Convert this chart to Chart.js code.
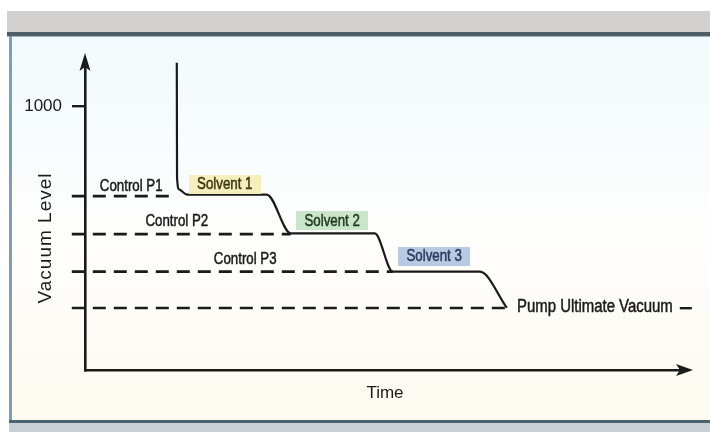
<!DOCTYPE html>
<html>
<head>
<meta charset="utf-8">
<script src="https://cdn.jsdelivr.net/npm/chart.js@4.4.1/dist/chart.umd.min.js"></script>
<style>
  html, body { margin: 0; padding: 0; background: #ffffff; }
  #wrap { width: 710px; height: 432px; }
</style>
</head>
<body>
<div id="wrap"><canvas id="c" width="710" height="432"></canvas></div>
<script>
// ---- data (diagram units: time 0..100, vacuum level 0..1175) ----
const yTickValues = [1000];
const yTickLabels = ['1000'];

// pressure curve (time, vacuum level)
const curveTime  = [15.3, 15.34, 15.7, 17.0, 30.3, 34.3, 48.3, 51.3, 65.8, 70.3];
const curveLevel = [1165, 730, 684, 665, 665, 518, 518, 373, 373, 236];

// dashed reference levels
const levelNames = ['Control P1', 'Control P2', 'Control P3', 'Pump Ultimate Vacuum'];
const levelValues = [659, 515, 373, 235];
const levelStart = -2.2;
const levelEnd = [15.3, 34.3, 51.3, 70.3];

// text labels (anchor in diagram units)
const controlLabelTime  = [7.7, 15.3, 26.7];
const controlLabelLevel = [697, 561, 417];
const solventNames = ['Solvent 1', 'Solvent 2', 'Solvent 3'];
const solventTime  = [23.3, 41.2, 58.2];
const solventLevel = [705, 566, 432];
const ultimateLabelTime = 72.0;

const xTitle = 'Time';
const yTitle = 'Vacuum Level';

// ---- styles ----
const FONT = '"Liberation Sans", Arial, sans-serif';
const INK = '#1a1a1a';
const NARROW = 0.83;
const solventFill = ['#f6eebf', '#cbe5ca', '#b8cae2'];
const solventInk  = ['#3a3912', '#1d3b1f', '#2a3c5f'];

const datasets = [{
  data: curveTime.map((t, i) => ({x: t, y: curveLevel[i]})),
  borderColor: INK, borderWidth: 2.2, pointRadius: 0,
  cubicInterpolationMode: 'monotone', fill: false, order: 0
}];
levelValues.forEach((v, i) => {
  datasets.push({
    data: [{x: levelStart, y: v}, {x: levelEnd[i], y: v}],
    borderColor: INK, borderWidth: 2.6, borderDash: [13, 8], pointRadius: 0,
    fill: false, clip: false, order: 1
  });
});

function narrowText(ctx, text, x, y, align) {
  const w = ctx.measureText(text).width * NARROW;
  let left = x;
  if (align === 'center') left = x - w / 2;
  else if (align === 'right') left = x - w;
  ctx.save();
  ctx.textAlign = 'left';
  ctx.translate(left, y);
  ctx.scale(NARROW, 1);
  ctx.strokeStyle = ctx.fillStyle;
  ctx.lineWidth = 0.5;
  ctx.fillText(text, 0, 0);
  ctx.strokeText(text, 0, 0);
  ctx.restore();
  return w;
}

const framePlugin = {
  id: 'frame',
  beforeDraw(chart) {
    const ctx = chart.ctx;
    ctx.save();
    ctx.fillStyle = '#ffffff';
    ctx.fillRect(0, 0, 710, 432);
    ctx.fillStyle = '#d3d1cf';
    ctx.fillRect(7, 11, 703, 22);
    const g = ctx.createLinearGradient(0, 37, 0, 420);
    g.addColorStop(0, '#f1fafc');
    g.addColorStop(0.5, '#fefefd');
    g.addColorStop(1, '#fdfaf0');
    ctx.fillStyle = g;
    ctx.fillRect(9, 37, 701, 384);
    ctx.fillStyle = '#4f5d66';
    ctx.fillRect(7, 32, 703, 4);
    ctx.fillStyle = '#9fb6c6';
    ctx.fillRect(7, 36, 703, 1);
    ctx.fillStyle = '#7f9db5';
    ctx.fillRect(9, 36, 3, 386);
    ctx.fillStyle = '#4b6272';
    ctx.fillRect(9, 420, 701, 3);
    ctx.fillStyle = '#c9cfd4';
    ctx.fillRect(9, 423, 701, 9);
    ctx.restore();
  }
};

const decoPlugin = {
  id: 'deco',
  afterDatasetsDraw(chart) {
    const ctx = chart.ctx;
    const xs = chart.scales.x, ys = chart.scales.y;
    const ca = chart.chartArea;
    ctx.save();
    ctx.textBaseline = 'middle';
    ctx.font = '16px ' + FONT;
    ctx.fillStyle = INK;
    controlLabelTime.forEach((t, i) => {
      narrowText(ctx, levelNames[i], xs.getPixelForValue(t), ys.getPixelForValue(controlLabelLevel[i]), 'center');
    });
    solventNames.forEach((s, i) => {
      const cx = xs.getPixelForValue(solventTime[i]);
      const cy = ys.getPixelForValue(solventLevel[i]);
      const w = ctx.measureText(s).width * NARROW + 17;
      const h = 19;
      ctx.fillStyle = solventFill[i];
      ctx.fillRect(Math.round(cx - w / 2), Math.round(cy - h / 2), Math.round(w), h);
      ctx.fillStyle = solventInk[i];
      narrowText(ctx, s, cx, cy + 0.5, 'center');
    });
    ctx.fillStyle = INK;
    ctx.font = '18px ' + FONT;
    const uy = ys.getPixelForValue(levelValues[3]) - 1;
    const ux = xs.getPixelForValue(ultimateLabelTime);
    const tw = narrowText(ctx, levelNames[3], ux, uy, 'left');
    ctx.fillRect(ux + tw + 7, uy, 12, 2.4);
    // y title
    ctx.translate(46, 238);
    ctx.rotate(-Math.PI / 2);
    ctx.textAlign = 'center';
    ctx.font = '19px ' + FONT;
    ctx.letterSpacing = '1px';
    ctx.fillText(yTitle, 0, 0);
    ctx.restore();

    // arrows
    ctx.save();
    ctx.fillStyle = INK;
    const ax = ca.left;
    ctx.beginPath();
    ctx.moveTo(ax, ca.top - 7);
    ctx.lineTo(ax - 5.5, ca.top + 11);
    ctx.lineTo(ax, ca.top + 7);
    ctx.lineTo(ax + 5.5, ca.top + 11);
    ctx.closePath();
    ctx.fill();
    const ay = ca.bottom;
    ctx.beginPath();
    ctx.moveTo(ca.right + 8, ay);
    ctx.lineTo(ca.right - 9, ay - 6);
    ctx.lineTo(ca.right - 5, ay);
    ctx.lineTo(ca.right - 9, ay + 6);
    ctx.closePath();
    ctx.fill();
    ctx.restore();
  }
};

new Chart(document.getElementById('c'), {
  type: 'line',
  data: { datasets },
  plugins: [framePlugin, decoPlugin],
  options: {
    responsive: false,
    animation: false,
    events: [],
    layout: { padding: { left: 0, top: 60, right: 25, bottom: 0 } },
    plugins: { legend: { display: false }, tooltip: { enabled: false } },
    scales: {
      x: {
        type: 'linear', min: 0, max: 100,
        grid: { display: false },
        border: { display: true, color: INK, width: 2.6 },
        ticks: { display: false },
        title: { display: true, text: xTitle, color: INK,
                 font: { family: FONT, size: 17 }, padding: { top: 0, bottom: 28 } },
        afterFit(s) { s.height = 62; }
      },
      y: {
        type: 'linear', min: 0, max: 1175,
        afterBuildTicks(s) { s.ticks = yTickValues.map(v => ({ value: v })); },
        grid: { display: true, drawOnChartArea: false, drawTicks: true, tickLength: 13,
                color: INK, lineWidth: 2.4 },
        border: { display: true, color: INK, width: 2.6 },
        ticks: { padding: 10, color: INK, font: { family: FONT, size: 17 },
                 callback: (v) => yTickLabels[yTickValues.indexOf(v)] ?? '' },
        afterFit(s) { s.width = 85; }
      }
    }
  }
});
</script>
</body>
</html>
